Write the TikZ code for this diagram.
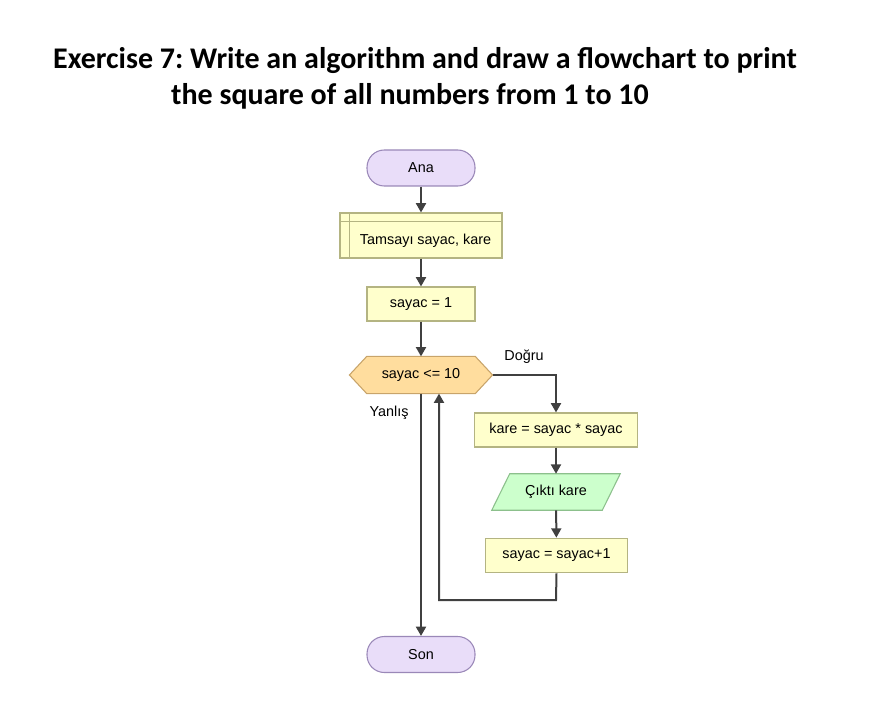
\documentclass[tikz,border=0pt]{standalone}
\usepackage{fontspec}
\setmainfont{Liberation Sans}
\newfontfamily\titlefont{Carlito}
\usetikzlibrary{arrows.meta}
\frenchspacing
\definecolor{termfill}{HTML}{E9DDF9}
\definecolor{termdraw}{HTML}{9A88B8}
\definecolor{boxfill}{HTML}{FFFFCC}
\definecolor{boxdraw}{HTML}{B4B482}
\definecolor{decfill}{HTML}{FFDD9E}
\definecolor{decdraw}{HTML}{C8A46A}
\definecolor{iofill}{HTML}{CCFFCC}
\definecolor{iodraw}{HTML}{8CC08C}
\definecolor{linec}{HTML}{404040}
\tikzset{
  every node/.style={font=\fontsize{10.8pt}{12pt}\selectfont, inner sep=0pt},
  term/.style={draw=termdraw, fill=termfill, line width=0.8pt, rounded corners=13pt, minimum width=81pt, minimum height=27pt},
  procbox/.style={draw=boxdraw, fill=boxfill, line width=0.8pt, minimum height=25.5pt},
  conn/.style={draw=linec, line width=1.5pt, -{Triangle[length=7pt,width=7.5pt]}},
  title/.style={font=\titlefont\bfseries\fontsize{22.5pt}{26pt}\selectfont, anchor=base},
  lbl/.style={font=\fontsize{10.8pt}{12pt}\selectfont}
}
\begin{document}
\begin{tikzpicture}[x=0.75pt,y=-0.75pt]
\useasboundingbox (0,0) rectangle (871,727);
\node[title] (t1) at (425,69) {Exercise 7: Write an algorithm and draw a flowchart to print};
\node[title] (t2) at (410,105) {the square of all numbers from 1 to 10};

\node[term] (ana) at (421,168) {Ana};
\node[procbox, minimum width=121.5pt, minimum height=33.75pt] (decl) at (421,235.5) {};
\draw[boxdraw, line width=0.8pt] ([xshift=7.5pt]decl.north west) -- ([xshift=7.5pt]decl.south west);
\draw[boxdraw, line width=0.8pt] ([yshift=-6.6pt]decl.north west) -- ([yshift=-6.6pt]decl.north east);
\node (decltxt) at (425.5,241) {Tamsayı sayac, kare};

\node[procbox, minimum width=81pt] (init) at (421,304) {sayac = 1};

\node[minimum width=81pt, minimum height=27.5pt] (dec) at (421,375) {};
\draw[draw=decdraw, fill=decfill, line width=0.8pt]
  (dec.north west) -- (dec.north east) -- ([xshift=13pt]dec.east) -- (dec.south east) -- (dec.south west) -- ([xshift=-13pt]dec.west) -- cycle;
\node at (dec) {sayac <= 10};

\node[procbox, minimum width=122pt] (sq) at (556,430) {kare = sayac * sayac};

\node[minimum width=96pt, minimum height=27pt] (out) at (556,492) {};
\draw[draw=iodraw, fill=iofill, line width=0.8pt]
  ([xshift=13.5pt]out.north west) -- (out.north east) -- ([xshift=-13.5pt]out.south east) -- (out.south west) -- cycle;
\node at (out) {Çıktı kare};

\node[procbox, minimum width=107pt, minimum height=26pt] (inc) at (556.5,555.5) {sayac = sayac+1};

\node[term] (son) at (421,654.5) {Son};

\node[lbl] (yes) at (524,357) {Doğru};
\node[lbl] (no) at (389,413) {Yanlış};

\coordinate (c1) at (556,375);
\coordinate (c2) at (556,600);
\coordinate (c3) at (439,600);

\path[conn] (ana) -- (decl);
\path[conn] (decl) -- (init);
\path[conn] (init) -- (dec);
\path[conn] ([xshift=13pt]dec.east) -- (c1) -- (sq);
\path[conn] (sq) -- (out);
\path[conn] (out) -- (inc);
\path[conn] (inc.south) -- (c2) -- (c3) -- (c3 |- dec.south);
\path[conn] (dec.south) -- (dec.south |- son.north);
\end{tikzpicture}
\end{document}
